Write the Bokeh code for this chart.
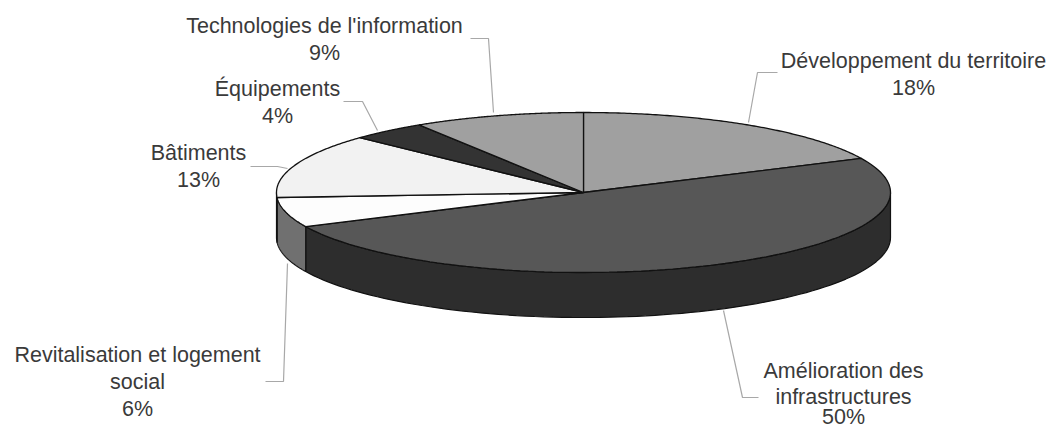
import numpy as np
from bokeh.plotting import figure
from bokeh.models import Range1d
from bokeh.core.properties import value
from bokeh.embed import file_html
from bokeh.resources import INLINE

categories = ["Développement du territoire", "Amélioration des infrastructures",
              "Revitalisation et logement social", "Bâtiments", "Équipements",
              "Technologies de l'information"]
shares = [18, 50, 6, 13, 4, 9]
top_colors = ["#a0a0a0", "#575757", "#fdfdfd", "#f2f2f2", "#333333", "#a0a0a0"]
side_colors = ["#6e6e6e", "#2d2d2d", "#707070", "#8a8a8a", "#222222", "#6e6e6e"]

# geometry, in page pixels
CX, CY, RX, RY, DEPTH = 583, 192, 307, 80, 45


def ell(deg, dy=0):
    r = np.radians(deg)
    return CX + RX * np.sin(r), CY + dy - RY * np.cos(r)


p = figure(width=1048, height=427, output_backend="svg", toolbar_location=None,
           x_range=Range1d(0, 1048), y_range=Range1d(427, 0),
           min_border=0, outline_line_color=None, background_fill_color="white")
p.axis.visible = False
p.grid.visible = False

edges = np.concatenate([[0], np.cumsum(shares)]) * 3.6

# front wall of the disc
for a0, a1, col in zip(edges[:-1], edges[1:], side_colors):
    lo, hi = max(a0, 90), min(a1, 270)
    if hi <= lo:
        continue
    t = np.linspace(lo, hi, 90)
    xt, yt = ell(t)
    xb, yb = ell(t[::-1], DEPTH)
    p.patch(np.r_[xt, xb], np.r_[yt, yb], fill_color=col, line_color="#111111", line_width=1.2)

# top slices
for a0, a1, col in zip(edges[:-1], edges[1:], top_colors):
    t = np.linspace(a0, a1, 120)
    xt, yt = ell(t)
    p.patch(np.r_[CX, xt], np.r_[CY, yt], fill_color=col, line_color="#111111", line_width=1.3)

# leader lines
leaders = [
    ([777, 757, 748], [72, 72, 122]),
    ([758, 742, 723], [397, 397, 310]),
    ([265, 283, 287], [381, 381, 263]),
    ([250, 277, 287], [166, 166, 168]),
    ([343, 362, 377], [101, 101, 130]),
    ([470, 488, 493], [38, 38, 112]),
]
for lx, ly in leaders:
    p.line(lx, ly, line_color="#a8a8a8", line_width=1.2)

# labels
label_rows = [
    (913, 60, "Développement du territoire"), (913, 87, f"{shares[0]}%"),
    (843, 370, "Amélioration des"), (843, 396, "infrastructures"), (843, 416, f"{shares[1]}%"),
    (137, 354, "Revitalisation et logement"), (137, 381, "social"), (137, 408, f"{shares[2]}%"),
    (198, 152, "Bâtiments"), (198, 179, f"{shares[3]}%"),
    (277, 88, "Équipements"), (277, 115, f"{shares[4]}%"),
    (324, 25, "Technologies de l'information"), (324, 52, f"{shares[5]}%"),
]
p.text([r[0] for r in label_rows], [r[1] for r in label_rows], text=[r[2] for r in label_rows],
       text_align="center", text_baseline="middle", text_color="#3a3a3a",
       text_font=value("Liberation Sans"), text_font_size="21.5px")

open("out.html", "w").write(file_html(p, INLINE))
